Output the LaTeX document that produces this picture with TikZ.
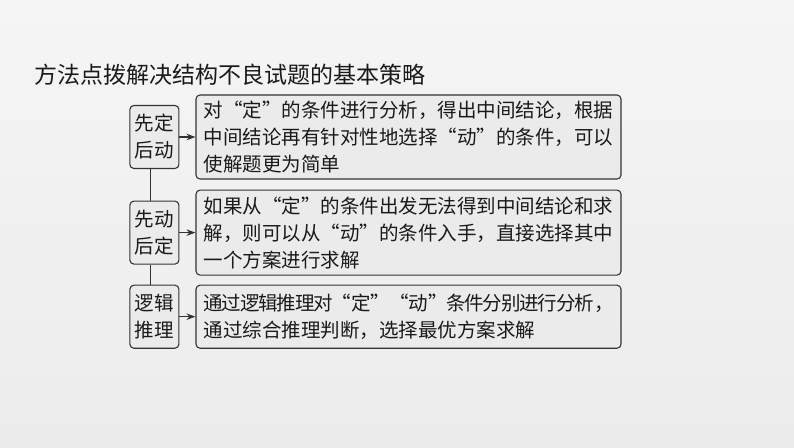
\documentclass[tikz,border=0pt]{standalone}
\usepackage{fontspec}
\setmainfont{Noto Sans CJK SC}
\XeTeXlinebreaklocale "zh"
\XeTeXlinebreakskip=0pt plus 3pt minus 2pt
\usetikzlibrary{arrows.meta}
\usetikzlibrary{positioning}
\definecolor{bgtop}{HTML}{F5F5F5}
\definecolor{bgbot}{HTML}{ECECEC}
\definecolor{boxfill}{HTML}{EBEBEB}
\definecolor{boxline}{HTML}{333333}
\definecolor{ink}{HTML}{1A1A1A}
\tikzset{
  every picture/.style={font={\fontsize{19.5}{27}\selectfont}},
  tip/.style={-{Stealth[length=9pt, width=6.5pt]}}}

\begin{document}
\begin{tikzpicture}[node distance=10pt and 16pt, line width=1.1pt,
    strat/.style={draw=boxline, fill=boxfill, rounded corners=4pt, text=ink,
      minimum width=49pt, minimum height=63pt, inner sep=2pt, align=center},
    desc/.style={draw=boxline, fill=boxfill, rounded corners=4pt, text=ink,
      text width=410pt, inner xsep=7.5pt, inner ysep=3pt, align=justify}]

    \fill[top color=bgtop, bottom color=bgbot] (0,0) rectangle (794pt,447pt);
    \useasboundingbox (0,0) rectangle (794pt,447pt);

    \node[anchor=west, text=ink, font={\fontsize{23}{27}\selectfont}] (T) at (31pt,372pt)
      {方法点拨解决结构不良试题的基本策略};

    \begin{scope}
      \node[desc, minimum height=84pt] (DA) at (408.5pt,310pt)
        {对“定”的条件进行分析，得出中间结论，根据\linebreak
         中间结论再有针对性地选择“动”的条件，可以\linebreak
         使解题更为简单};
      \node[desc, minimum height=85pt] (DB) [below=of DA]
        {如果从“定”的条件出发无法得到中间结论和求\linebreak
         解，则可以从“动”的条件入手，直接选择其中\linebreak
         一个方案进行求解};
      \node[desc, minimum height=63pt] (DC) [below=9pt of DB]
        {通过逻辑推理对“定”“动”条件分别进行分析，\linebreak
         通过综合推理判断，选择最优方案求解};
    \end{scope}

    \begin{scope}
      \node[strat] (SA) [left=of DA] {先定\\后动};
      \node[strat] (SB) [left=of DB] {先动\\后定};
      \node[strat] (SC) [left=of DC] {逻辑\\推理};
    \end{scope}

    \draw[boxline] ([xshift=-3.5pt]SA.south) -- ([xshift=-3.5pt]SB.north);
    \draw[boxline] ([xshift=-3.5pt]SB.north |- SB.south) -- ([xshift=-3.5pt]SC.north);

    \draw[boxline, tip] (SA) -- (DA);
    \draw[boxline, tip] (SB) -- (DB);
    \draw[boxline, tip] (SC) -- (DC);
  \end{tikzpicture}
\end{document}
